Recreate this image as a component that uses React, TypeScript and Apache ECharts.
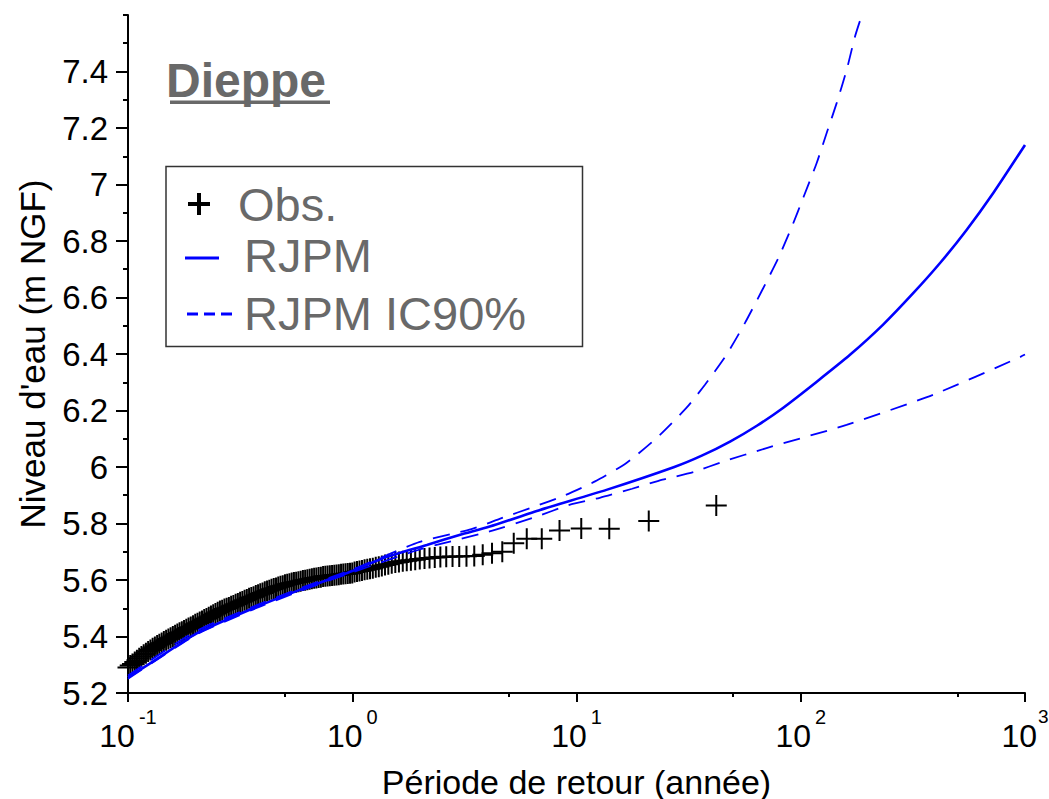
import React, { useEffect, useRef } from 'react';
import * as echarts from 'echarts';

// Observations: return period (years) and water level (m NGF)
const obsT = [
  0.1, 0.1023, 0.1047, 0.1072, 0.1096, 0.1122, 0.1148, 0.1175, 0.1202, 0.123,
  0.1259, 0.1288, 0.1318, 0.1349, 0.138, 0.1413, 0.1445, 0.1479, 0.1514, 0.1549,
  0.1585, 0.1622, 0.166, 0.1698, 0.1738, 0.1778, 0.182, 0.1862, 0.1905, 0.195,
  0.1995, 0.2042, 0.2089, 0.2138, 0.2188, 0.2239, 0.2291, 0.2344, 0.2399, 0.2455,
  0.2512, 0.257, 0.263, 0.2692, 0.2754, 0.2818, 0.2884, 0.2951, 0.302, 0.309,
  0.3162, 0.3236, 0.3311, 0.3388, 0.3467, 0.3548, 0.3631, 0.3715, 0.3802, 0.389,
  0.3981, 0.4074, 0.4169, 0.4266, 0.4365, 0.4467, 0.4571, 0.4677, 0.4786, 0.4898,
  0.5012, 0.5129, 0.5248, 0.537, 0.5495, 0.5623, 0.5754, 0.5888, 0.6026, 0.6166,
  0.631, 0.6457, 0.6607, 0.6761, 0.6918, 0.7079, 0.7244, 0.7413, 0.7586, 0.7762,
  0.7943, 0.8128, 0.8318, 0.8511, 0.871, 0.8913, 0.912, 0.9333, 0.955, 0.9772,
  1.0, 1.024, 1.05, 1.077, 1.105, 1.135, 1.167, 1.2, 1.235, 1.273,
  1.313, 1.355, 1.4, 1.448, 1.5, 1.556, 1.615, 1.68, 1.75, 1.826,
  1.909, 2.0, 2.1, 2.211, 2.333, 2.471, 2.625, 2.8, 3.0, 3.231,
  3.5, 3.818, 4.2, 4.667, 5.25, 6.0, 7.0, 8.4, 10.5, 14.0,
  21.0, 42.0,
];
const obsY = [
  5.29, 5.297, 5.303, 5.31, 5.316, 5.323, 5.329, 5.335, 5.341, 5.347,
  5.352, 5.358, 5.363, 5.368, 5.373, 5.377, 5.382, 5.387, 5.391, 5.396,
  5.4, 5.404, 5.409, 5.413, 5.417, 5.421, 5.426, 5.43, 5.434, 5.438,
  5.443, 5.447, 5.451, 5.455, 5.46, 5.464, 5.468, 5.473, 5.477, 5.481,
  5.486, 5.49, 5.493, 5.497, 5.5, 5.503, 5.507, 5.51, 5.514, 5.517,
  5.521, 5.524, 5.528, 5.531, 5.535, 5.538, 5.541, 5.545, 5.548, 5.551,
  5.554, 5.558, 5.561, 5.564, 5.567, 5.57, 5.572, 5.575, 5.578, 5.58,
  5.583, 5.585, 5.587, 5.589, 5.591, 5.592, 5.594, 5.596, 5.598, 5.599,
  5.601, 5.603, 5.604, 5.606, 5.607, 5.609, 5.61, 5.612, 5.613, 5.614,
  5.615, 5.616, 5.617, 5.618, 5.619, 5.62, 5.621, 5.622, 5.623, 5.624,
  5.625, 5.628, 5.63, 5.632, 5.634, 5.636, 5.638, 5.64, 5.642, 5.645,
  5.647, 5.65, 5.653, 5.656, 5.659, 5.662, 5.664, 5.666, 5.668, 5.67,
  5.672, 5.674, 5.676, 5.678, 5.68, 5.681, 5.682, 5.683, 5.683, 5.684,
  5.685, 5.689, 5.695, 5.7, 5.73, 5.746, 5.746, 5.775, 5.782, 5.781,
  5.809, 5.864,
];

// RJPM fitted curve
const rjpmT = [0.1, 0.1245, 0.2025, 0.362, 0.584, 1.0, 1.37, 2.15, 3.03, 4.1, 6.88, 13.6, 27.3, 36.4, 48.6, 64, 83.6, 117.9, 165.8, 233, 318, 418, 550, 722, 1000];
const rjpmY = [5.255, 5.303, 5.411, 5.5, 5.565, 5.632, 5.677, 5.724, 5.76, 5.789, 5.848, 5.919, 6.0, 6.041, 6.091, 6.147, 6.21, 6.302, 6.397, 6.504, 6.616, 6.722, 6.84, 6.97, 7.14];

// RJPM 90% confidence interval, upper bound
const icUpT = [0.1, 0.2, 0.36, 0.58, 1.0, 2.0, 3.4, 4.6, 6.4, 8.9, 12.1, 16.7, 23.0, 30.9, 37.4, 46.7, 56.4, 66.9, 79.5, 91.2, 102.8, 117.9, 130.6, 144.7, 160.4, 174.7, 187];
const icUpY = [5.262, 5.418, 5.505, 5.57, 5.637, 5.735, 5.78, 5.818, 5.858, 5.9, 5.949, 6.014, 6.106, 6.209, 6.291, 6.398, 6.51, 6.622, 6.74, 6.85, 6.955, 7.077, 7.183, 7.289, 7.407, 7.525, 7.598];

// RJPM 90% confidence interval, lower bound
const icLoT = [0.1, 0.2, 0.36, 0.58, 1.0, 2.0, 4.1, 6.5, 9.3, 12.7, 17.7, 24.2, 33.5, 45, 70.4, 160, 390, 933, 1000];
const icLoY = [5.25, 5.405, 5.495, 5.56, 5.627, 5.708, 5.772, 5.822, 5.866, 5.891, 5.923, 5.955, 5.983, 6.019, 6.067, 6.149, 6.256, 6.386, 6.398];

// Axis ticks
const yMajorTicks = [5.2, 5.4, 5.6, 5.8, 6.0, 6.2, 6.4, 6.6, 6.8, 7.0, 7.2, 7.4];
const yMinorTicks = [5.3, 5.5, 5.7, 5.9, 6.1, 6.3, 6.5, 6.7, 6.9, 7.1, 7.3, 7.5, 7.6];
const xMinorTicksLog10 = [-0.30103, 0.69897, 1.69897, 2.69897]; // 0.5, 5, 50, 500

const legendLabels = ['Obs.', 'RJPM', 'RJPM IC90%'];
const stationName = 'Dieppe';

const FONT = "'Liberation Sans', Arial, sans-serif";

const zip = (xs: number[], ys: number[]) => xs.map((x, i) => [x, ys[i]]);

export default function App() {
  const ref = useRef<HTMLDivElement>(null);

  useEffect(() => {
    if (!ref.current) return;
    const chart = echarts.init(ref.current, null, { renderer: 'svg' });
    const black = '#000';
    const blue = '#0000ff';
    const gray = '#696969';

    const lineCommon = {
      type: 'line',
      xAxisIndex: 0,
      yAxisIndex: 0,
      showSymbol: false,
      smooth: 0.2,
      z: 3,
    };

    const option: any = {
      animation: false,
      backgroundColor: '#fff',
      grid: { left: 128, right: 24, top: 15, bottom: 106, containLabel: false, outerBoundsMode: 'none' },
      xAxis: [
        {
          type: 'log',
          logBase: 10,
          min: 0.1,
          max: 1000,
          position: 'bottom',
          name: 'Période de retour (année)',
          nameLocation: 'middle',
          nameGap: 72,
          nameMoveOverlap: false,
          nameTextStyle: { fontFamily: FONT, fontSize: 34, color: black, lineHeight: 34 },
          axisLine: { show: true, onZero: false, lineStyle: { color: black, width: 2 } },
          axisTick: { show: true, length: 9, lineStyle: { color: black, width: 2 } },
          splitLine: { show: false },
          minorTick: { show: false },
          axisLabel: {
            margin: 14,
            formatter: (v: number) => {
              const e = Math.round(Math.log10(v));
              return e >= 3 ? `{b|10}{t|${e}}` : `{b|10}{s|${e}}`;
            },
            rich: {
              b: { fontFamily: FONT, fontSize: 32, color: black, lineHeight: 58 },
              s: { fontFamily: FONT, fontSize: 20, color: black, lineHeight: 22, verticalAlign: 'top', padding: [0, 0, 0, 4] },
              t: { fontFamily: FONT, fontSize: 19, color: black, lineHeight: 22, verticalAlign: 'top', padding: [0, 0, 0, 1] },
            },
          },
        },
        {
          type: 'value',
          min: -1,
          max: 3,
          position: 'bottom',
          axisLine: { show: false, onZero: false },
          axisLabel: { show: false },
          splitLine: { show: false },
          axisTick: { show: true, length: 4, customValues: xMinorTicksLog10, lineStyle: { color: black, width: 2 } },
        },
      ],
      yAxis: [
        {
          type: 'value',
          min: 5.2,
          max: 7.6,
          interval: 0.2,
          position: 'left',
          name: "Niveau d'eau (m NGF)",
          nameLocation: 'middle',
          nameGap: 78,
          nameTextStyle: { fontFamily: FONT, fontSize: 35, color: black },
          axisLine: { show: true, onZero: false, lineStyle: { color: black, width: 2 } },
          axisTick: { show: true, length: 12, customValues: yMajorTicks, lineStyle: { color: black, width: 2 } },
          splitLine: { show: false },
          axisLabel: {
            margin: 20,
            fontFamily: FONT,
            fontSize: 33,
            color: black,
            showMaxLabel: false,
            formatter: (v: number) => (v > 7.55 ? '' : String(parseFloat(v.toFixed(1)))),
          },
        },
        {
          type: 'value',
          min: 5.2,
          max: 7.6,
          position: 'left',
          axisLine: { show: false, onZero: false },
          axisLabel: { show: false },
          splitLine: { show: false },
          axisTick: { show: true, length: 5, customValues: yMinorTicks, lineStyle: { color: black, width: 2 } },
        },
      ],
      series: [
        {
          name: legendLabels[0],
          type: 'scatter',
          xAxisIndex: 0,
          yAxisIndex: 0,
          data: zip(obsT, obsY),
          symbol: 'path://M9.5,0h2v21h-2z M0,9.5h21v2h-21z',
          symbolSize: 21,
          itemStyle: { color: black, opacity: 1 },
          z: 2,
        },
        {
          ...lineCommon,
          name: legendLabels[1],
          data: zip(rjpmT, rjpmY),
          lineStyle: { color: blue, width: 2.6 },
        },
        {
          ...lineCommon,
          name: legendLabels[2],
          data: zip(icUpT, icUpY),
          lineStyle: { color: blue, width: 1.8, type: [17, 11] },
        },
        {
          ...lineCommon,
          name: legendLabels[2] + ' ',
          data: zip(icLoT, icLoY),
          lineStyle: { color: blue, width: 1.8, type: [17, 11] },
        },
      ],
      graphic: [
        {
          type: 'text',
          left: 166,
          top: 56,
          style: { text: stationName, font: `bold 48px ${FONT}`, fill: gray },
          z: 10,
        },
        {
          type: 'rect',
          shape: { x: 170, y: 100.5, width: 160, height: 3.5 },
          style: { fill: gray },
          z: 10,
        },
        {
          type: 'rect',
          shape: { x: 166, y: 166.5, width: 416.5, height: 180 },
          style: { fill: '#fff', stroke: '#333', lineWidth: 1.5 },
          z: 10,
        },
        { type: 'rect', shape: { x: 188, y: 202, width: 22, height: 4 }, style: { fill: black }, z: 11 },
        { type: 'rect', shape: { x: 197, y: 193, width: 4, height: 22 }, style: { fill: black }, z: 11 },
        {
          type: 'line',
          shape: { x1: 185, y1: 258, x2: 219, y2: 258 },
          style: { stroke: blue, lineWidth: 3 },
          z: 11,
        },
        {
          type: 'line',
          shape: { x1: 187, y1: 314, x2: 232, y2: 314 },
          style: { stroke: blue, lineWidth: 3, lineDash: [11, 6] },
          z: 11,
        },
        {
          type: 'text',
          left: 238,
          top: 181,
          style: { text: legendLabels[0], font: `47px ${FONT}`, fill: gray },
          z: 11,
        },
        {
          type: 'text',
          left: 244,
          top: 232,
          style: { text: legendLabels[1], font: `47px ${FONT}`, fill: gray },
          z: 11,
        },
        {
          type: 'text',
          left: 244,
          top: 290,
          style: { text: legendLabels[2], font: `47px ${FONT}`, fill: gray },
          z: 11,
        },
      ],
    };

    chart.setOption(option);
    return () => chart.dispose();
  }, []);

  return (
    <div
      ref={ref}
      style={{ position: 'absolute', left: 0, top: 0, width: 1049, height: 799, background: '#fff' }}
    />
  );
}
